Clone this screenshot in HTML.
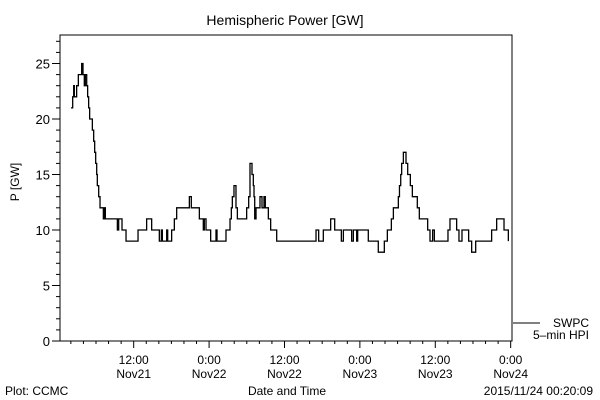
<!DOCTYPE html>
<html><head><meta charset="utf-8"><style>body{margin:0;background:#fff}svg{display:block}text{font-family:"Liberation Sans",sans-serif;fill:#000}</style></head>
<body>
<svg id="chart" width="600" height="400" viewBox="0 0 600 400">
<rect width="600" height="400" fill="#fff"/>
<text x="285" y="25" font-size="14" text-anchor="middle">Hemispheric Power [GW]</text>
<text transform="translate(19,182) rotate(-90)" font-size="12" text-anchor="middle">P [GW]</text>
<text x="287" y="395" font-size="12" text-anchor="middle">Date and Time</text>
<text x="5" y="395" font-size="12">Plot: CCMC</text>
<text x="593" y="395" font-size="12" text-anchor="end">2015/11/24 00:20:09</text>
<line x1="513" y1="323" x2="540" y2="323" stroke="#000"/>
<text x="589" y="327" font-size="12" text-anchor="end">SWPC</text>
<text x="589" y="339" font-size="12" text-anchor="end">5–min HPI</text>
<rect x="60" y="35" width="452" height="306" fill="none" stroke="#000"/>
<g id="axes"></g>
<path id="series" fill="none" stroke="#000" stroke-width="1.3"/>
</svg>
<script>
const hours=[2.02,2.29,2.45,2.55,2.92,3.19,3.72,3.93,4.14,4.30,4.52,4.67,4.83,4.99,5.42,5.63,5.79,5.95,6.11,6.21,6.43,6.64,7.17,7.33,7.49,9.40,9.61,10.14,10.78,12.69,14.06,14.86,16.08,16.40,16.56,17.25,17.41,18.04,18.47,18.84,20.86,21.17,22.45,23.08,23.24,23.51,24.25,25.10,25.26,26.69,27.33,27.54,27.70,27.96,28.28,28.50,29.98,30.30,30.51,30.83,31.04,31.15,31.26,31.47,32.10,32.42,32.74,32.95,33.43,33.80,34.76,41.02,41.44,42.18,43.35,43.99,45.05,45.37,46.69,46.96,47.49,47.65,49.34,50.93,51.89,52.37,53.01,53.33,54.12,54.30,54.50,54.65,54.92,55.34,55.61,56.03,56.35,57.14,57.46,58.79,59.16,59.58,59.85,62.02,62.34,63.40,63.77,64.25,65.31,65.79,66.43,68.97,69.77,70.94,71.63];
const power=[21,22,23,22,23,24,25,24,23,24,23,22,21,20,19,18,17,16,15,14,13,12,11,12,11,10,11,10,9,10,11,10,9,10,9,10,9,10,11,12,13,12,11,10,11,10,9,10,9,10,11,12,13,14,12,11,12,13,16,15,14,13,11,12,13,12,13,12,11,10,9,10,9,10,11,10,9,10,9,10,9,10,9,8,9,10,11,12,13,14,15,16,17,16,15,14,13,12,11,10,9,10,9,10,11,10,9,10,9,8,9,10,11,10,9,9];
const yTicks=[0,5,10,15,20,25];
const xTickHours=[12,24,36,48,60,72];
const xTickTimes=["12:00","0:00","12:00","0:00","12:00","0:00"];
const xTickDays=["Nov21","Nov22","Nov22","Nov23","Nov23","Nov24"];
const NS="http://www.w3.org/2000/svg";
const X=h=>58.3+h*6.283, Y=v=>341-v*11.1;
const axes=document.getElementById('axes');
function mk(tag,attrs){const e=document.createElementNS(NS,tag);for(const k in attrs)e.setAttribute(k,attrs[k]);axes.appendChild(e);return e;}
for(let v=0;v<=27;v++){const major=v%5===0;const t=mk('line',{x1:60-(major?8:4),x2:60,y1:Y(v),y2:Y(v),stroke:'#000'});

}
yTicks.forEach(v=>{const t=mk('text',{x:50,y:Y(v)+5,'font-size':13,'text-anchor':'end'});t.textContent=v;

});
for(let h=2;h<=72;h+=2){const major=h%12===0;const t=mk('line',{x1:X(h),x2:X(h),y1:341,y2:341+(major?7:3),stroke:'#000'});

}
xTickHours.forEach((h,i)=>{const a=mk('text',{x:X(h),y:364,'font-size':12,'text-anchor':'middle'});a.textContent=xTickTimes[i];


const b=mk('text',{x:X(h),y:378,'font-size':12,'text-anchor':'middle'});b.textContent=xTickDays[i];

});
let d='M'+X(hours[0])+','+Y(power[0]);
for(let i=1;i<hours.length;i++){d+=' H'+X(hours[i])+' V'+Y(power[i]);}
document.getElementById('series').setAttribute('d',d);
</script>
</body></html>
